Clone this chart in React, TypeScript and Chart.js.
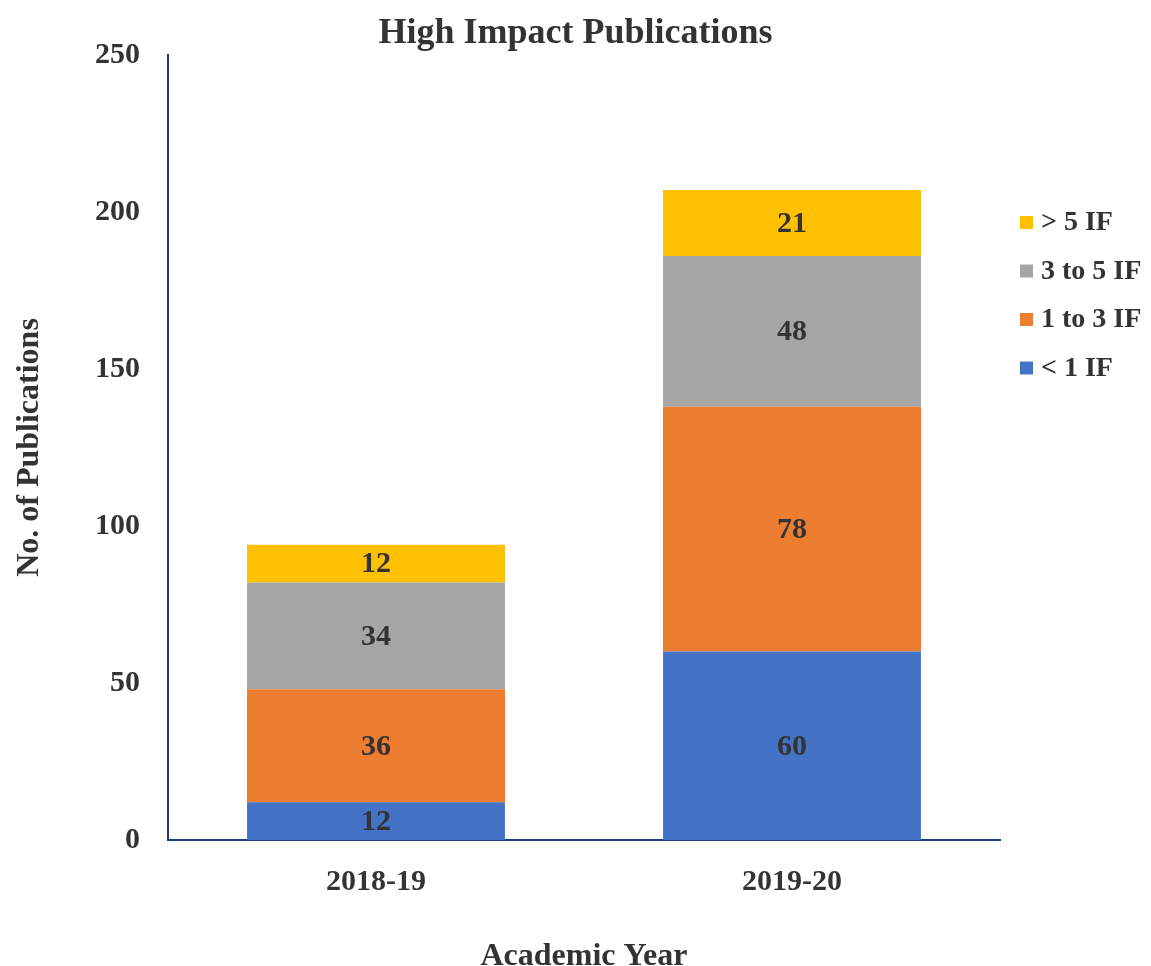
import React, { useEffect, useRef } from "react";
import { Chart, registerables } from "chart.js";

Chart.register(...registerables);

const categories = ["2018-19", "2019-20"];
const seriesNames = ["< 1 IF", "1 to 3 IF", "3 to 5 IF", "> 5 IF"];
const lessThan1 = [12, 60];
const oneTo3 = [36, 78];
const threeTo5 = [34, 48];
const moreThan5 = [12, 21];
const colors = ["#4472C4", "#ED7D31", "#A5A5A5", "#FFC000"];
const yTicks = [0, 50, 100, 150, 200, 250];
const chartTitle = "High Impact Publications";

const FONT = "'Liberation Serif', 'Times New Roman', serif";
const TEXT = "#333333";
const AXIS = "#1F3A7A";

const labelsPlugin = {
  id: "barLabels",
  afterDatasetsDraw(chart: any) {
    const ctx = chart.ctx;
    ctx.save();
    ctx.font = `bold 30px ${FONT}`;
    ctx.fillStyle = TEXT;
    ctx.textAlign = "center";
    ctx.textBaseline = "middle";
    chart.data.datasets.forEach((ds: any, i: number) => {
      const meta = chart.getDatasetMeta(i);
      meta.data.forEach((bar: any, j: number) => {
        const y = (bar.y + bar.base) / 2;
        ctx.fillText(String(ds.data[j]), bar.x, y + 1);
      });
    });
    ctx.restore();
  },
};

const titleLegendPlugin = {
  id: "titleLegend",
  afterDraw(chart: any) {
    const ctx = chart.ctx;
    const { right, top } = chart.chartArea;
    ctx.save();
    ctx.fillStyle = TEXT;
    ctx.font = `bold 36px ${FONT}`;
    ctx.textAlign = "center";
    ctx.textBaseline = "middle";
    ctx.fillText(chartTitle, chart.width / 2, 34);

    ctx.font = `bold 28px ${FONT}`;
    ctx.textAlign = "left";
    const order = [3, 2, 1, 0];
    order.forEach((idx, k) => {
      const y = top + 167 + k * 48.5;
      const x = right + 20;
      ctx.fillStyle = colors[idx];
      ctx.fillRect(x, y - 6, 13, 13);
      ctx.fillStyle = TEXT;
      ctx.fillText(seriesNames[idx], x + 21, y + 1);
    });
    ctx.restore();
  },
};

export default function App() {
  const ref = useRef<HTMLCanvasElement>(null);
  useEffect(() => {
    document.body.style.margin = "0";
    const values = [lessThan1, oneTo3, threeTo5, moreThan5];
    const chart = new Chart(ref.current!, {
      type: "bar",
      data: {
        labels: categories,
        datasets: seriesNames.map((name, i) => ({
          label: name,
          data: values[i],
          backgroundColor: colors[i],
          borderWidth: 0,
          categoryPercentage: 1,
          barPercentage: 0.62,
        })),
      },
      options: {
        animation: false,
        responsive: false,
        devicePixelRatio: 1,
        layout: { padding: { top: 55, right: 151, bottom: -7, left: 14 } },
        plugins: {
          legend: { display: false },
          tooltip: { enabled: false },
          title: { display: false },
        },
        scales: {
          x: {
            stacked: true,
            grid: { display: false, drawTicks: false },
            border: { display: true, color: AXIS, width: 2 },
            ticks: {
              color: TEXT,
              font: { family: FONT, size: 30, weight: "bold", lineHeight: 1 },
              padding: 27,
            },
            title: {
              display: true,
              text: "Academic Year",
              color: TEXT,
              font: { family: FONT, size: 32, weight: "bold", lineHeight: 1 },
              padding: { top: 17, bottom: 0 },
            },
          },
          y: {
            stacked: true,
            min: 0,
            max: 250,
            afterBuildTicks(scale: any) {
              scale.ticks = yTicks.map((v) => ({ value: v }));
            },
            grid: { display: false, drawTicks: false },
            border: { display: true, color: AXIS, width: 2 },
            ticks: {
              color: TEXT,
              font: { family: FONT, size: 30, weight: "bold", lineHeight: 1 },
              padding: 28,
            },
            title: {
              display: true,
              text: "No. of Publications",
              color: TEXT,
              font: { family: FONT, size: 32, weight: "bold", lineHeight: 1 },
              padding: { top: 0, bottom: 21 },
            },
          },
        },
      },
      plugins: [labelsPlugin, titleLegendPlugin],
    });
    return () => chart.destroy();
  }, []);
  return <canvas ref={ref} width={1151} height={966} style={{ display: "block" }} />;
}
